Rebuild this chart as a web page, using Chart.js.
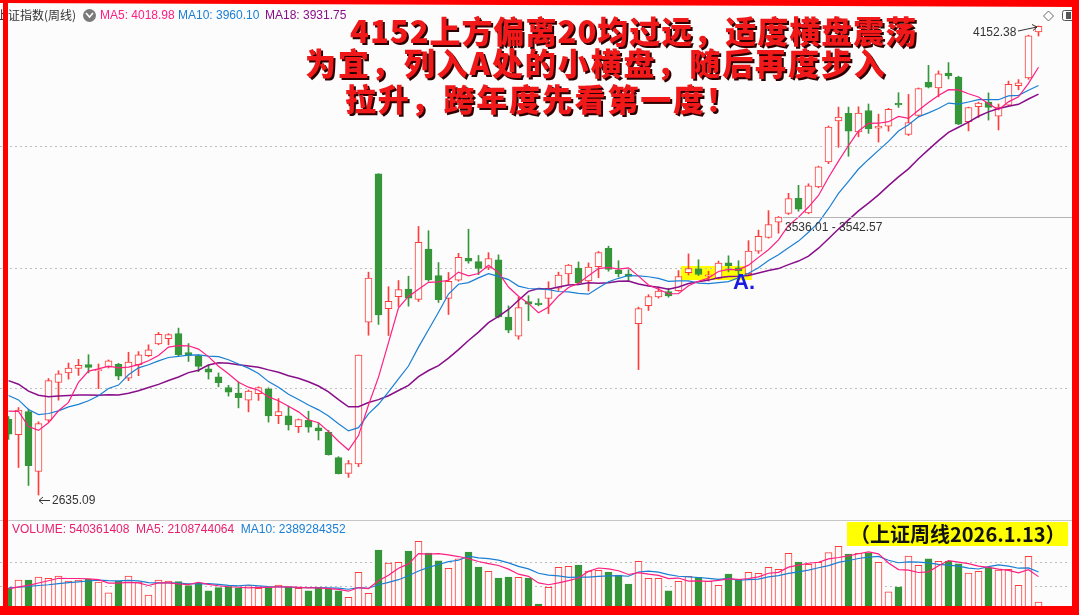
<!DOCTYPE html>
<html>
<head>
<meta charset="utf-8">
<script src="https://cdn.jsdelivr.net/npm/chart.js@4.4.1/dist/chart.umd.min.js"></script>
<style>
  body { margin: 0; background: #fff; }
  #wrap { position: relative; width: 1079px; height: 615px; overflow: hidden; background: #fcfcfc; font-family: "Liberation Sans", Arial, sans-serif; }
  .abs { position: absolute; white-space: nowrap; }
  canvas { position: absolute; left: 0; }
  .small { font-size: 12px; line-height: 14px; color: #333; }
  .big { font-family: "Noto Sans CJK SC", sans-serif; font-weight: 900; font-size: 31px; line-height: 31px; color: #f01818; text-shadow: 2px 2px 0 #2a0000; }
  .frame { position: absolute; background: #ff0000; }
</style>
</head>
<body>
<div id="wrap">
  <div class="abs" style="left:681px;top:266px;width:71px;height:14px;background:#ffff00;"></div>

  <canvas id="price" width="1070" height="504" style="top:8px;"></canvas>
  <div class="abs" style="left:0;top:520px;width:1072px;height:1px;background:#c6c6c6;"></div>
  <canvas id="volume" width="1070" height="91" style="top:520px;"></canvas>

  <!-- header legend -->
  <div class="abs" style="left:-4px;top:8px;font-family:'Noto Sans CJK SC',sans-serif;font-size:12px;line-height:14px;color:#333;">上证指数(周线)</div>
  <div class="abs" style="left:83px;top:9px;width:13px;height:13px;border-radius:50%;background:#7a7a7a;"></div>
  <div class="abs small" style="left:100px;top:8px;color:#ff1e82;">MA5: 4018.98</div>
  <div class="abs small" style="left:178px;top:8px;color:#1a7fd4;">MA10: 3960.10</div>
  <div class="abs small" style="left:265px;top:8px;color:#880e8a;">MA18: 3931.75</div>

  <!-- big red note -->
  <div class="abs big" style="left:350px;top:14px;letter-spacing:1px;">4152上方偏离20均过远，适度横盘震荡</div>
  <div class="abs big" style="left:305px;top:46px;letter-spacing:1.9px;">为宜，列入A处的小横盘，随后再度步入</div>
  <div class="abs big" style="left:345px;top:82px;letter-spacing:1.8px;">拉升，跨年度先看第一度！</div>

  <div class="abs" style="left:733px;top:271px;font-size:22px;line-height:22px;font-weight:bold;color:#1a1ae0;">A.</div>

  <!-- value marks -->
  <div class="abs small" style="left:973px;top:25px;">4152.38</div>
  <div class="abs small" style="left:52px;top:493px;">2635.09</div>
  <div class="abs small" style="left:785px;top:220px;">3536.01 - 3542.57</div>

  <!-- volume legend -->
  <div class="abs small" style="left:12px;top:522px;color:#e8206e;">VOLUME: 540361408&nbsp; MA5: 2108744064&nbsp; <span style="color:#1a7fd4;">MA10: 2389284352</span></div>

  <div class="abs" style="left:847px;top:522px;width:221px;height:24px;background:#ffff00;font-family:'Noto Sans CJK SC',sans-serif;font-weight:bold;font-size:20px;line-height:24px;color:#111;padding-left:3px;box-sizing:border-box;">（上证周线2026.1.13）</div>

  <svg class="abs" style="left:0;top:0;" width="1079" height="615">
    <line x1="783" y1="217.5" x2="1072" y2="217.5" stroke="#b4b4b4" stroke-width="1"/>
    <polyline points="86,13 89.5,17 93,13" fill="none" stroke="#fff" stroke-width="1.6"/>
    <line x1="50" y1="500.5" x2="39" y2="500.5" stroke="#333" stroke-width="1"/>
    <polyline points="43,497 39,500.5 43,504" fill="none" stroke="#333" stroke-width="1"/>
    <line x1="1018" y1="31" x2="1037" y2="27" stroke="#333" stroke-width="1"/>
    <polyline points="1032,24.5 1037,27 1033,30.5" fill="none" stroke="#333" stroke-width="1"/>
    <polygon points="1048.5,11 1053.5,16 1048.5,21 1043.5,16" fill="none" stroke="#666" stroke-width="1"/>
    <rect x="1062.5" y="10.5" width="14" height="10" rx="2" fill="none" stroke="#555" stroke-width="1"/>
    <rect x="1066" y="12" width="5" height="7" fill="#555"/>
  </svg>

  <!-- red frame -->
  <svg class="abs" style="left:0;top:0;" width="1079" height="10"><polygon points="0,0 1079,0 1079,7 0,3" fill="#ff0000"/></svg>
  <div class="frame" style="left:3px;top:0;width:5px;height:615px;"></div>
  <div class="frame" style="left:1072px;top:0;width:7px;height:615px;"></div>
  <div class="frame" style="left:0;top:606px;width:1079px;height:9px;"></div>
</div>

<script>
// weekly closes before the first visible candle, only used to start the moving averages
const preCloses = [3117.74, 3132.43, 3110.48, 3088.10, 2983.06, 3017.78, 3030.80, 3038.97, 3054.37,
  3040.97, 3031.64, 2969.56, 2942.56, 2914.78, 2974.93, 2929.18, 2881.98];

const opens = [
  2880, 2830, 2905, 2711, 2877, 2999, 3030, 3045, 3057, 3037,
  3049, 3058, 3013, 3057, 3086, 3124, 3141, 3157, 3096, 3086,
  3043, 3017, 2983, 2965, 2942, 2963, 2978, 2892, 2891, 2856,
  2877, 2852, 2838, 2756, 2705, 2736, 3194, 3674, 3238, 3277,
  3301, 3268, 3431, 3345, 3271, 3330, 3401, 3390, 3371, 3396,
  3211, 3149, 3261, 3256, 3271, 3304, 3350, 3369, 3328, 3374,
  3433, 3363, 3350, 3189, 3248, 3276, 3293, 3296, 3354, 3367,
  3343, 3336, 3386, 3370, 3351, 3424, 3468, 3518, 3546, 3595,
  3548, 3632, 3713, 3845, 3870, 3810, 3879, 3822, 3828, 3902,
  3802, 3863, 3970, 3952, 4000, 3987, 3843, 3891, 3906, 3861,
  3896, 3959, 3984, 4133];

const highs = [
  2889, 2918, 2913, 2872, 3012, 3037, 3062, 3074, 3089, 3059,
  3072, 3061, 3097, 3099, 3121, 3161, 3157, 3175, 3125, 3089,
  3056, 3030, 2990, 3001, 2975, 2985, 2982, 2947, 2923, 2881,
  2906, 2868, 2844, 2759, 2747, 3088, 3356, 3674.4, 3309, 3329,
  3343, 3504, 3490, 3387, 3355, 3417, 3495, 3410, 3419, 3412,
  3247, 3275, 3280, 3270, 3325, 3356, 3381, 3389, 3386, 3423,
  3440, 3393, 3364, 3243, 3283, 3308, 3304, 3361, 3415, 3396,
  3359, 3392, 3409, 3393, 3458, 3492, 3555, 3536.01, 3611, 3637,
  3642, 3699, 3829, 3890, 3890, 3891, 3900, 3867, 3886, 3936.6,
  3931, 3952, 4025, 4007, 4034, 3990, 3890, 3906, 3936, 3900,
  3974, 3979, 4123, 4152.38];

const lows = [
  2815, 2724, 2666, 2635.09, 2872, 2942, 3010, 3022, 3030, 2979,
  3046, 3008, 3005, 3021, 3083, 3121, 3121, 3085, 3067, 3034,
  3010, 2985, 2955, 2917, 2904, 2941, 2871, 2866, 2845, 2837,
  2838, 2813, 2764, 2703, 2692, 2727, 3152, 3187, 3151, 3245,
  3246, 3261, 3327, 3258, 3219, 3327, 3385, 3348, 3364, 3208,
  3160, 3139, 3199, 3247, 3222, 3297, 3317, 3319, 3295, 3338,
  3359, 3341, 3325, 3040.69, 3232, 3272, 3275, 3294, 3347, 3345,
  3327, 3334, 3357, 3337, 3346, 3417, 3466, 3482, 3542.57, 3553,
  3545, 3629, 3707, 3760, 3731, 3794, 3805, 3777, 3812, 3889,
  3798, 3860, 3952, 3923, 3981, 3833, 3813, 3856, 3848, 3816,
  3893, 3946, 3980, 4120];

const closes = [
  2832.28, 2910.22, 2730.15, 2865.90, 3004.88, 3027.02, 3046.02, 3054.64, 3048.03, 3041.17,
  3069.30, 3019.47, 3065.26, 3088.64, 3104.82, 3154.55, 3154.03, 3088.87, 3086.81, 3051.28,
  3032.63, 2998.14, 2967.40, 2949.93, 2971.30, 2982.31, 2890.90, 2905.34, 2862.19, 2879.43,
  2854.37, 2842.21, 2765.81, 2704.09, 2736.81, 3087.53, 3336.50, 3217.74, 3261.56, 3299.70,
  3272.01, 3452.30, 3330.73, 3267.19, 3326.46, 3404.08, 3391.88, 3368.07, 3400.14, 3211.24,
  3168.52, 3241.82, 3252.63, 3250.60, 3303.67, 3346.39, 3379.11, 3320.90, 3372.55, 3419.56,
  3364.83, 3351.31, 3342.01, 3238.23, 3276.73, 3295.06, 3279.03, 3342.00, 3367.46, 3348.37,
  3347.49, 3385.36, 3377.00, 3359.90, 3424.23, 3472.32, 3510.18, 3534.48, 3593.66, 3559.95,
  3635.13, 3696.77, 3825.76, 3857.93, 3812.51, 3870.60, 3820.09, 3828.11, 3882.78, 3897.03,
  3839.76, 3950.31, 3954.79, 3997.56, 3990.49, 3834.89, 3888.60, 3902.81, 3889.35, 3890.45,
  3963.68, 3968.84, 4120.43, 4151.50];

// weekly volume, in units of 1e8
const preVolumes = [14.6, 13.5, 14.9, 15.3, 13.8, 12.9, 14.2, 13.4, 12.8];
const volumes = [
  13.7, 18.7, 18.7, 20.5, 19.7, 21.1, 18.1, 18.7, 19.1, 17.5,
  10.9, 17.9, 21.1, 17.5, 9.6, 18.7, 18.1, 17.7, 15.3, 16.9,
  12.2, 14.1, 14.7, 13.7, 15.3, 13.7, 14.1, 15.7, 14.3, 13.7,
  12.2, 13.7, 13.3, 12.2, 8.3, 23.3, 10.7, 36.8, 28.9, 29.4,
  36.2, 42.0, 35.0, 30.2, 25.7, 31.4, 35.6, 26.5, 23.9, 19.9,
  20.5, 20.3, 19.9, 4.2, 14.3, 26.4, 27.0, 27.7, 24.1, 24.5,
  23.5, 21.7, 16.3, 30.0, 19.7, 19.7, 12.1, 17.9, 20.9, 20.3,
  17.9, 15.5, 22.3, 19.1, 23.3, 22.7, 26.4, 25.1, 34.8, 29.5,
  28.2, 29.4, 35.2, 39.0, 34.4, 34.8, 34.8, 29.4, 11.5, 14.5,
  33.2, 27.6, 31.4, 30.0, 30.0, 28.5, 22.9, 23.9, 26.1, 24.7,
  25.1, 15.5, 33.0, 5.40361408];

const priceGrid = [2981, 3369, 3761];
const volumeGrid = [14.9, 29.4];

const RED = '#ff3d3d', GREEN = '#35963a', BG = '#fcfcfc';
const PINK = '#ff1e82', BLUE = '#1a7fd4', PURPLE = '#880e8a';

function movingAverage(pre, vals, n) {
  const all = pre.concat(vals);
  return vals.map((v, i) => {
    const end = pre.length + i + 1;
    const win = all.slice(Math.max(0, end - n), end);
    return { x: i, y: win.reduce((a, b) => a + b, 0) / win.length };
  });
}

const isUp = closes.map((c, i) => c >= opens[i]);
const edge = isUp.map(u => u ? RED : GREEN);
const fill = isUp.map(u => u ? BG : GREEN);

function lineSet(label, data, color, width) {
  return { type: 'line', label: label, data: data, borderColor: color, borderWidth: width,
    pointRadius: 0, tension: 0, order: 1 };
}

function hiddenY(min, max, grid) {
  return {
    type: 'linear', min: min, max: max,
    ticks: { display: false },
    grid: { color: '#bdbdbd', drawTicks: false, lineWidth: 1 },
    border: { display: false, dash: [2, 3] },
    afterBuildTicks: s => { s.ticks = grid.map(v => ({ value: v })); },
    afterFit: s => { s.width = 0; }
  };
}

const baseOptions = (yScale) => ({
  responsive: false,
  animation: false,
  events: [],
  layout: { padding: 0 },
  plugins: { legend: { display: false }, tooltip: { enabled: false } },
  scales: {
    x: { type: 'linear', display: false, offset: false, bounds: 'ticks', min: -0.85, max: 106.15 },
    y: yScale
  }
});

new Chart(document.getElementById('price'), {
  type: 'bar',
  data: {
    datasets: [
      lineSet('MA5', movingAverage(preCloses, closes, 5), PINK, 1.2),
      lineSet('MA10', movingAverage(preCloses, closes, 10), BLUE, 1.2),
      lineSet('MA18', movingAverage(preCloses, closes, 18), PURPLE, 1.5),
      {
        type: 'bar', label: 'body',
        data: opens.map((o, i) => ({ x: i, y: [o, closes[i]] })),
        backgroundColor: fill, borderColor: edge, borderWidth: 1, borderSkipped: false,
        barThickness: 7, minBarLength: 1, grouped: false, order: 2
      },
      {
        type: 'bar', label: 'wick',
        data: lows.map((l, i) => ({ x: i, y: [l, highs[i]] })),
        backgroundColor: edge, borderWidth: 0, barThickness: 1, grouped: false, order: 3
      }
    ]
  },
  options: baseOptions(hiddenY(2580.1, 4210.6, priceGrid))
});

new Chart(document.getElementById('volume'), {
  type: 'bar',
  data: {
    datasets: [
      lineSet('VOL MA5', movingAverage(preVolumes, volumes, 5), PINK, 1.2),
      lineSet('VOL MA10', movingAverage(preVolumes, volumes, 10), BLUE, 1.2),
      {
        type: 'bar', label: 'volume',
        data: volumes.map((v, i) => ({ x: i, y: v })),
        backgroundColor: fill, borderColor: edge, borderWidth: 1, borderSkipped: false,
        barThickness: 7, grouped: false, order: 2
      }
    ]
  },
  options: baseOptions(hiddenY(0, 54.9, volumeGrid))
});
</script>
</body>
</html>
